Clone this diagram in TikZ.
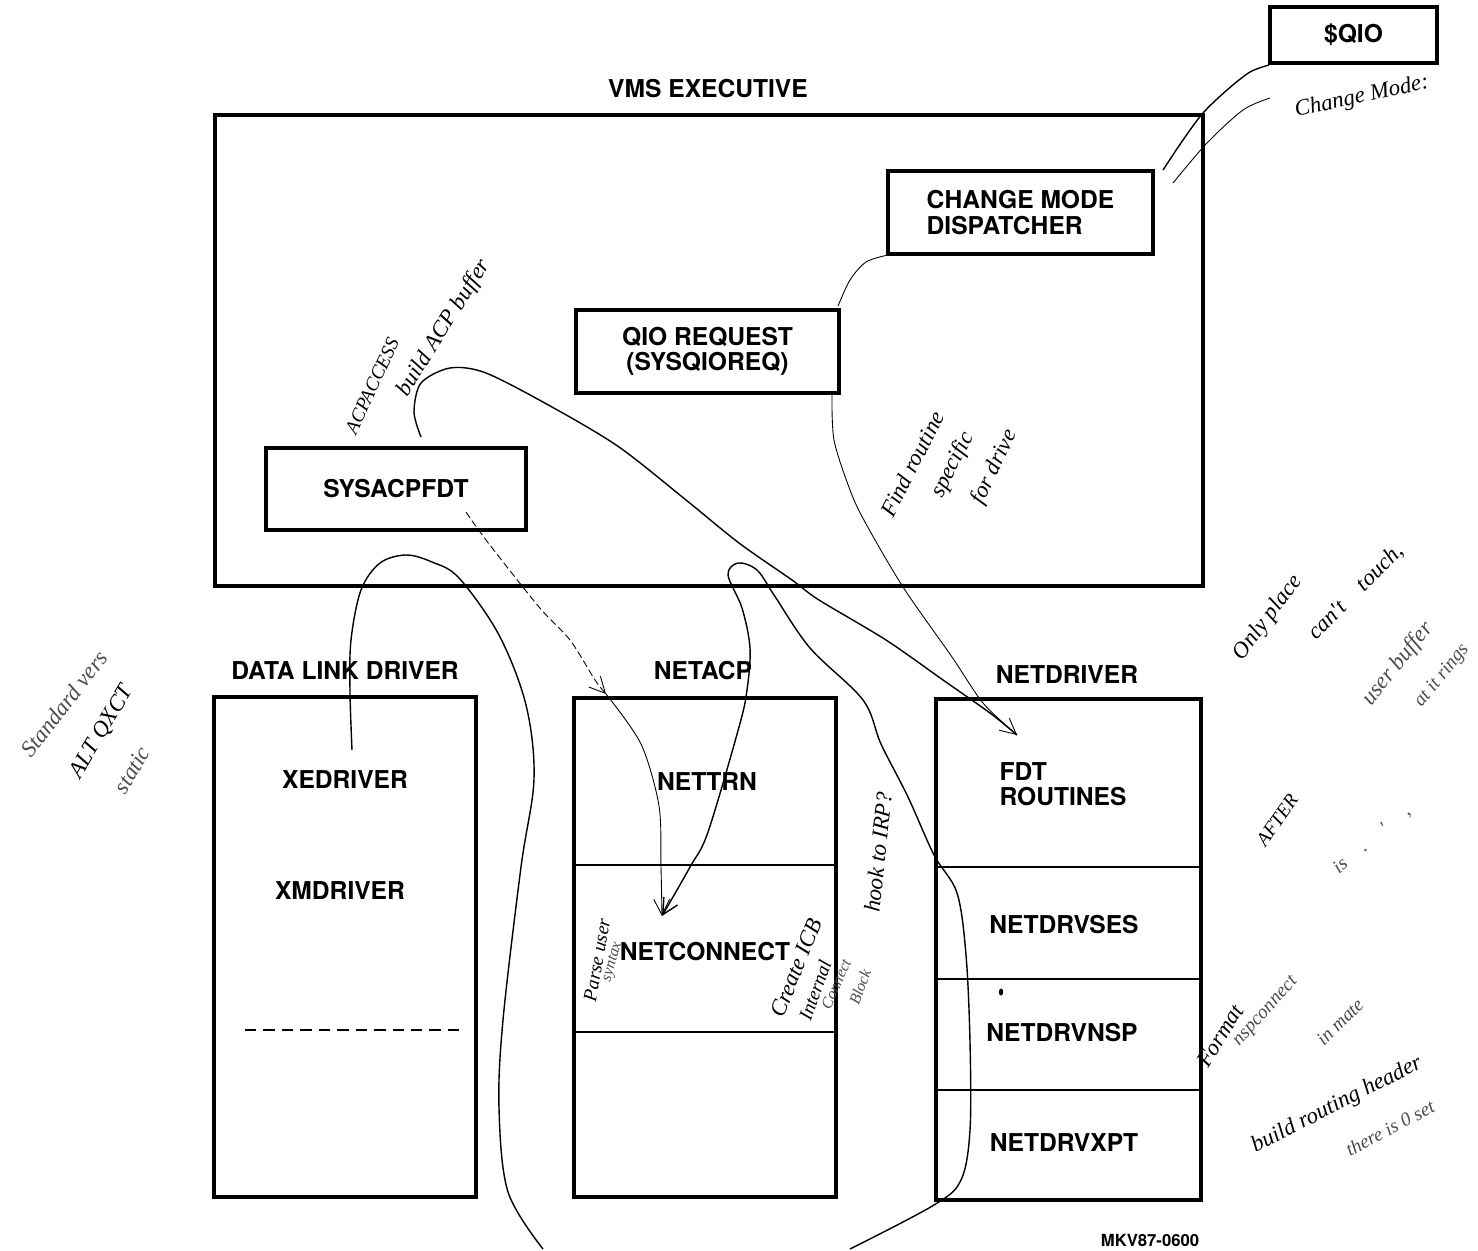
\documentclass[tikz,border=0pt]{standalone}
\usepackage{fontspec}
\setmainfont{TeX Gyre Heros}
\newfontfamily\handfont{Liberation Serif}
\usetikzlibrary{arrows.meta}
\tikzset{
  box/.style={draw, line width=2.2pt, rectangle, inner sep=0pt, font=\fontsize{14}{14.5}\selectfont\bfseries},
  lbl/.style={font=\fontsize{14}{14.5}\selectfont\bfseries, inner sep=1pt},
  divider/.style={line width=1.1pt},
  hand/.style={line width=0.8pt},
  faint/.style={line width=0.5pt},
  note/.style={font=\handfont\itshape\fontsize{13}{13}\selectfont, inner sep=0pt},
  fnote/.style={font=\handfont\itshape\fontsize{11}{11}\selectfont, inner sep=0pt, text=black!70},
  barb/.style={-{Straight Barb[length=9pt,width=9pt]}}
}
\begin{document}
\begin{tikzpicture}[x=0.02cm,y=-0.02cm]
\useasboundingbox (0,0) rectangle (1478,1251);
\fill[white] (0,0) rectangle (1478,1251);

% ---- boxes ----
\node[box, minimum width=3.34cm, minimum height=1.12cm] (qio) at (1353.5,35) {\$QIO};
\node[lbl] (vmslbl) at (708,89) {VMS EXECUTIVE};
\node[box, minimum width=19.76cm, minimum height=9.42cm] (vms) at (709,350.5) {};
\node[box, minimum width=5.3cm, minimum height=1.66cm, align=left] (cmd) at (1020.5,212.5) {CHANGE MODE\\DISPATCHER};
\node[box, minimum width=5.26cm, minimum height=1.66cm, align=center] (qreq) at (707.5,351.5) {QIO REQUEST\\(SYSQIOREQ)};
\node[box, minimum width=5.2cm, minimum height=1.64cm] (sysacp) at (396,489) {SYSACPFDT};

\node[lbl] (dldlbl) at (345,671) {DATA LINK DRIVER};
\node[box, minimum width=5.24cm, minimum height=10cm] (dld) at (345,947) {};
\node[lbl] (xe) at (345,780) {XEDRIVER};
\node[lbl] (xm) at (340,891) {XMDRIVER};
\draw[line width=1.6pt, dash pattern=on 6.5pt off 4pt] (245,1030) -- (466,1030);

\node[lbl] (acplbl) at (703,671) {NETACP};
\node[box, minimum width=5.24cm, minimum height=9.98cm] (netacp) at (705,947.5) {};
\draw[divider] (netacp.west |- 0,865) -- (netacp.east |- 0,865);
\draw[divider] (netacp.west |- 0,1032) -- (netacp.east |- 0,1032);
\node[lbl] (nettrn) at (707,782) {NETTRN};
\node[lbl] (netconn) at (705,952) {NETCONNECT};

\node[lbl] (drvlbl) at (1067,675) {NETDRIVER};
\node[box, minimum width=5.3cm, minimum height=10.02cm] (netdrv) at (1068.5,949.5) {};
\draw[divider] (netdrv.west |- 0,867) -- (netdrv.east |- 0,867);
\draw[divider] (netdrv.west |- 0,979) -- (netdrv.east |- 0,979);
\draw[divider] (netdrv.west |- 0,1090) -- (netdrv.east |- 0,1090);
\node[lbl, align=left] (fdt) at (1063,784) {FDT\\ROUTINES};
\node[lbl] (ses) at (1064,925) {NETDRVSES};
\node[lbl] (nsp) at (1062,1033) {NETDRVNSP};
\node[lbl] (xpt) at (1064,1143) {NETDRVXPT};
\fill (1001,992) ellipse (2.2 and 3.5);

\node[font=\fontsize{9.5}{10}\selectfont\bfseries] (fig) at (1150,1240) {MKV87-0600};

% ---- hand-drawn connectors ----
\coordinate (qioA) at (1269,65);
\coordinate (qioB) at (1270,98);
\draw[hand] plot[smooth] coordinates {(qioA) (1250,72) (1227,90) (1203,113) (1183,140) (1163,170)};
\draw[faint] plot[smooth] coordinates {(qioB) (1243,110) (1207,143) (1173,183)};

\coordinate (cmdsw) at (888,255);
\coordinate (qreqne) at (838,306);
\draw[faint] plot[smooth] coordinates {(cmdsw) (866,262) (850,280) (qreqne)};

\coordinate (qreqse) at (832,394);
\coordinate (fdttip) at (1017,735);
\draw[faint, barb] plot[smooth] coordinates {(qreqse) (834,440) (850,490) (865,522) (903,587) (952,657) (983,703) (fdttip)};

\coordinate (sysup) at (421,437);
\draw[hand] plot[smooth] coordinates {(sysup) (414,412) (421,383) (450,368) (486,373) (552,407) (619,447) (686,500) (739,543) (792,580) (819,600) (886,640) (943,680) (990,713) (fdttip)};

\coordinate (sysdn) at (466,512);
\coordinate (acptop) at (606,694);
\coordinate (conntop) at (662,916);
\draw[faint, dash pattern=on 4pt off 2pt, barb] plot[smooth] coordinates {(sysdn) (486,540) (539,607) (570,640) (595,680) (acptop)};
\draw[faint, barb] plot[smooth] coordinates {(acptop) (641,744) (659,806) (661,867) (conntop)};

\coordinate (loopend) at (850,1249);
\draw[hand, barb] plot[smooth, tension=0.55] coordinates {(loopend) (934,1205) (961,1180) (970,1130) (970,1042) (966,955) (957,893) (934,855) (908,797) (881,744) (863,700) (810,648) (774,595) (757,570) (738,563) (728,575) (742,608) (750,648) (747,690) (739,727) (708,832) (690,867) (conntop)};

\coordinate (xetop) at (352,750);
\coordinate (leftend) at (543,1249);
\draw[hand] plot[smooth, tension=0.55] coordinates {(xetop) (350,692) (351,640) (361,590) (380,563) (406,555) (432,562) (459,578) (499,635) (526,705) (534,779) (521,867) (503,1020) (499,1108) (508,1192) (leftend)};

% ---- handwritten notes ----
\node[note, rotate=12] (n1) at (1362,97) {Change Mode:};
\node[note, rotate=65, font=\handfont\itshape\fontsize{11}{11}\selectfont] (n2) at (372,386) {ACPACCESS};
\node[note, rotate=58] (n3) at (444,328) {build ACP buffer};
\node[note, rotate=63] (n4) at (912,464) {Find routine};
\node[note, rotate=63] (n5) at (953,465) {specific};
\node[note, rotate=64] (n6) at (995,467) {for drive};
\node[fnote, rotate=52, font=\handfont\itshape\fontsize{13}{13}\selectfont] (n7) at (64,704) {Standard vers};
\node[note, rotate=59] (n8) at (102,732) {ALT QXCT};
\node[fnote, rotate=59, font=\handfont\itshape\fontsize{13}{13}\selectfont] (n9) at (132,770) {static};
\node[note, rotate=53] (n10) at (1268,618) {Only place};
\node[note, rotate=45] (n11) at (1356,592) {can't \;\; touch,};
\node[fnote, rotate=51, font=\handfont\itshape\fontsize{13}{13}\selectfont] (n12) at (1398,664) {user buffer};
\node[fnote, rotate=51] (n13) at (1442,676) {at it rings};
\node[note, rotate=55, font=\handfont\itshape\fontsize{11}{11}\selectfont] (n14) at (1277,820) {AFTER};
\node[fnote, rotate=40] (n15) at (1372,840) {is \;\; . \;\; ' \;\; ,};
\node[note, rotate=58] (n16) at (1220,1036) {Format};
\node[fnote, rotate=48] (n17) at (1266,1012) {nspconnect};
\node[fnote, rotate=45] (n18) at (1340,1022) {in mate};
\node[note, rotate=27] (n19) at (1337,1105) {build routing header};
\node[fnote, rotate=28] (n20) at (1390,1128) {there is 0 set};
\node[note, rotate=80, font=\handfont\itshape\fontsize{11}{11}\selectfont] (n21) at (597,960) {Parse user};
\node[fnote, rotate=74, font=\handfont\itshape\fontsize{9}{9}\selectfont] (n22) at (613,962) {syntax};
\node[note, rotate=68] (n23) at (796,968) {Create ICB};
\node[note, rotate=70, font=\handfont\itshape\fontsize{11}{11}\selectfont] (n24) at (815,990) {Internal};
\node[fnote, rotate=66, font=\handfont\itshape\fontsize{9}{9}\selectfont] (n25) at (836,984) {Connect};
\node[fnote, rotate=70, font=\handfont\itshape\fontsize{9}{9}\selectfont] (n26) at (860,987) {Block};
\node[note, rotate=84] (n27) at (878,852) {hook to IRP?};
\end{tikzpicture}
\end{document}
